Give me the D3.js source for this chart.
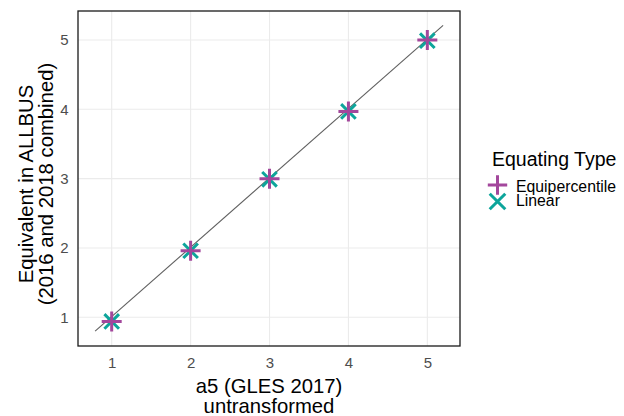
<!DOCTYPE html>
<html><head><meta charset="utf-8">
<script src="https://cdn.jsdelivr.net/npm/d3@7"></script>
<style>body{margin:0;background:#fff}svg{display:block}text{font-family:"Liberation Sans",Arial,sans-serif}</style>
</head><body>
<svg id="c" width="624" height="416"></svg>
<script>
const scores = [1, 2, 3, 4, 5];
const equipercentile = [0.94, 1.96, 3.0, 3.97, 5.0];
const linear = [0.94, 1.96, 2.99, 3.97, 4.99];
const identityX = [0.79, 5.2];
const identityY = [0.80, 5.21];
const ticks = [1, 2, 3, 4, 5];
const seriesNames = ["Equipercentile", "Linear"];
const seriesColors = ["#A3479C", "#0DA59B"];

const svg = d3.select("#c");
const L = 78, R = 460, T = 11, B = 346;
const x = d3.scaleLinear().domain([0.573, 5.414]).range([L, R]);
const y = d3.scaleLinear().domain([0.586, 5.418]).range([B, T]);

// grid
svg.append("g").selectAll("line").data(ticks).join("line")
  .attr("x1", d => x(d)).attr("x2", d => x(d)).attr("y1", T).attr("y2", B)
  .attr("stroke", "#ebebeb").attr("stroke-width", 1.1);
svg.append("g").selectAll("line").data(ticks).join("line")
  .attr("y1", d => y(d)).attr("y2", d => y(d)).attr("x1", L).attr("x2", R)
  .attr("stroke", "#ebebeb").attr("stroke-width", 1.1);

// identity line
svg.append("path")
  .attr("d", d3.line()(identityX.map((v, i) => [x(v), y(identityY[i])])))
  .attr("stroke", "#5f5f5f").attr("stroke-width", 1.1).attr("fill", "none");

function plus(g, cx, cy, color, h) {
  g.append("path").attr("d", `M${cx - h},${cy}H${cx + h}M${cx},${cy - h}V${cy + h}`)
    .attr("stroke", color).attr("stroke-width", 3).attr("fill", "none");
}
function cross(g, cx, cy, color, h) {
  g.append("path").attr("d", `M${cx - h},${cy - h}L${cx + h},${cy + h}M${cx - h},${cy + h}L${cx + h},${cy - h}`)
    .attr("stroke", color).attr("stroke-width", 3).attr("fill", "none");
}
const pts = svg.append("g");
scores.forEach((s, i) => cross(pts, x(s), y(linear[i]), seriesColors[1], 7.3));
scores.forEach((s, i) => plus(pts, x(s), y(equipercentile[i]), seriesColors[0], 10));

// panel border
svg.append("rect").attr("x", L).attr("y", T).attr("width", R - L).attr("height", B - T)
  .attr("fill", "none").attr("stroke", "#1a1a1a").attr("stroke-width", 1.3);

// axes
const xa = svg.append("g").attr("transform", `translate(0,${B})`)
  .call(d3.axisBottom(x).tickValues(ticks).tickSize(0).tickPadding(11.5).tickFormat(d3.format("d")));
xa.select(".domain").remove();
xa.selectAll("text").attr("fill", "#4d4d4d").attr("font-size", 15);
const ya = svg.append("g").attr("transform", `translate(${L},0)`)
  .call(d3.axisLeft(y).tickValues(ticks).tickSize(0).tickPadding(9.5).tickFormat(d3.format("d")));
ya.select(".domain").remove();
ya.selectAll("text").attr("fill", "#4d4d4d").attr("font-size", 15);

// titles
const xt = svg.append("text").attr("text-anchor", "middle").attr("font-size", 20.3).attr("fill", "#000");
xt.append("tspan").attr("x", (L + R) / 2).attr("y", 393).text("a5 (GLES 2017)");
xt.append("tspan").attr("x", (L + R) / 2).attr("y", 413).text("untransformed");
const yt = svg.append("text").attr("text-anchor", "middle").attr("font-size", 20.3).attr("fill", "#000")
  .attr("transform", `translate(0,184) rotate(-90)`);
yt.append("tspan").attr("x", 0).attr("y", 33).text("Equivalent in ALLBUS");
yt.append("tspan").attr("x", 0).attr("y", 53).text("(2016 and 2018 combined)");

// legend
svg.append("text").attr("x", 492).attr("y", 165.5).attr("font-size", 19.5).attr("fill", "#000").text("Equating Type");
const lg = svg.append("g");
plus(lg, 497.5, 185, seriesColors[0], 9.7);
cross(lg, 497.5, 201.5, seriesColors[1], 7.8);
lg.selectAll("text").data(seriesNames).join("text")
  .attr("x", 516).attr("y", (d, i) => 191.5 + i * 14.5)
  .attr("font-size", 15.8).attr("fill", "#000").text(d => d);
</script>
</body></html>
